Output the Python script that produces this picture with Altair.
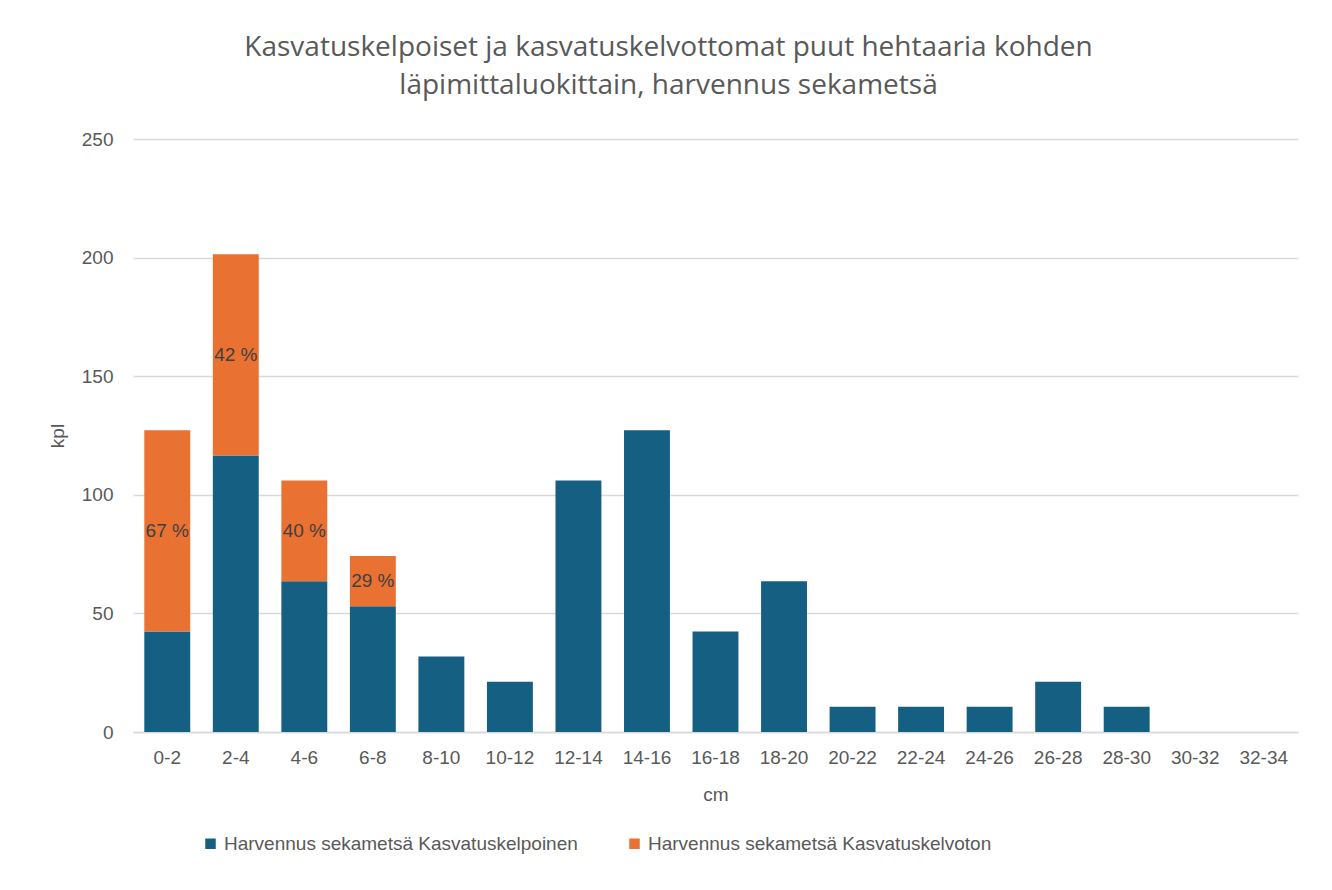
import altair as alt
import pandas as pd

classes = ["0-2", "2-4", "4-6", "6-8", "8-10", "10-12", "12-14", "14-16", "16-18",
           "18-20", "20-22", "22-24", "24-26", "26-28", "28-30", "30-32", "32-34"]
kelpoinen = [42.4, 116.6, 63.6, 53.0, 31.8, 21.2, 106.0, 127.2, 42.4,
             63.6, 10.6, 10.6, 10.6, 21.2, 10.6, 0, 0]
kelvoton = [84.8, 84.8, 42.4, 21.2, 0, 0, 0, 0, 0,
            0, 0, 0, 0, 0, 0, 0, 0]
pct_labels = ["67 %", "42 %", "40 %", "29 %", "", "", "", "", "",
              "", "", "", "", "", "", "", ""]

s1 = "Harvennus sekametsä Kasvatuskelpoinen"
s2 = "Harvennus sekametsä Kasvatuskelvoton"

rows = []
for i, c in enumerate(classes):
    rows.append({"cls": c, "series": s1, "value": kelpoinen[i], "ord": 0})
    rows.append({"cls": c, "series": s2, "value": kelvoton[i], "ord": 1})
df = pd.DataFrame(rows)

lab = pd.DataFrame({
    "cls": classes,
    "mid": [kelpoinen[i] + kelvoton[i] / 2 for i in range(len(classes))],
    "label": pct_labels,
})
lab = lab[lab["label"] != ""]

FONT = "Liberation Sans"
GRAY = "#595959"

x_enc = alt.X("cls:N", sort=classes, title="cm",
              scale=alt.Scale(paddingInner=0.33, paddingOuter=0.165),
              axis=alt.Axis(labelAngle=0, labelFontSize=19, labelColor=GRAY, labelFont=FONT,
                            labelPadding=16, ticks=False, domainColor="#d9d9d9", domainWidth=1.5,
                            titleFontSize=19, titleColor=GRAY, titleFont=FONT,
                            titleFontWeight="normal", titlePadding=18, grid=False))

bars = alt.Chart(df).mark_bar().encode(
    x=x_enc,
    y=alt.Y("value:Q", stack="zero", title="kpl",
            scale=alt.Scale(domain=[0, 250], nice=False),
            axis=alt.Axis(values=[0, 50, 100, 150, 200, 250], labelFontSize=19,
                          labelColor=GRAY, labelFont=FONT, labelPadding=20,
                          ticks=False, domain=False, gridColor="#d9d9d9", gridWidth=1.5,
                          titleFontSize=19, titleColor=GRAY, titleFont=FONT,
                          titleFontWeight="normal", titlePadding=14)),
    color=alt.Color("series:N", scale=alt.Scale(domain=[s1, s2], range=["#156082", "#E97132"]),
                    legend=alt.Legend(title=None, orient="none", direction="horizontal",
                                      legendX=68, legendY=695, symbolType="square",
                                      symbolSize=110, symbolStrokeWidth=0,
                                      labelFontSize=19, labelColor=GRAY, labelFont=FONT,
                                      columnPadding=47, labelLimit=500)),
    order=alt.Order("ord:Q"),
)

text = alt.Chart(lab).mark_text(fontSize=19, color="#404040", font=FONT).encode(
    x=alt.X("cls:N", sort=classes),
    y=alt.Y("mid:Q"),
    text="label:N",
)

chart = alt.layer(bars, text).properties(
    width=1165,
    height=593,
    background="white",
    title=alt.Title(
        ["Kasvatuskelpoiset ja kasvatuskelvottomat puut hehtaaria kohden",
         "läpimittaluokittain, harvennus sekametsä"],
        fontSize=28, font="Open Sans", fontWeight="normal", color=GRAY,
        anchor="middle", dx=-47, lineHeight=38, offset=30,
    ),
    autosize=alt.AutoSizeParams(type="none"),
    padding={"left": 125, "top": 131, "right": 20, "bottom": 140},
).configure_view(stroke=None)

chart.save("out.html", embed_options={"renderer": "svg", "actions": False})
